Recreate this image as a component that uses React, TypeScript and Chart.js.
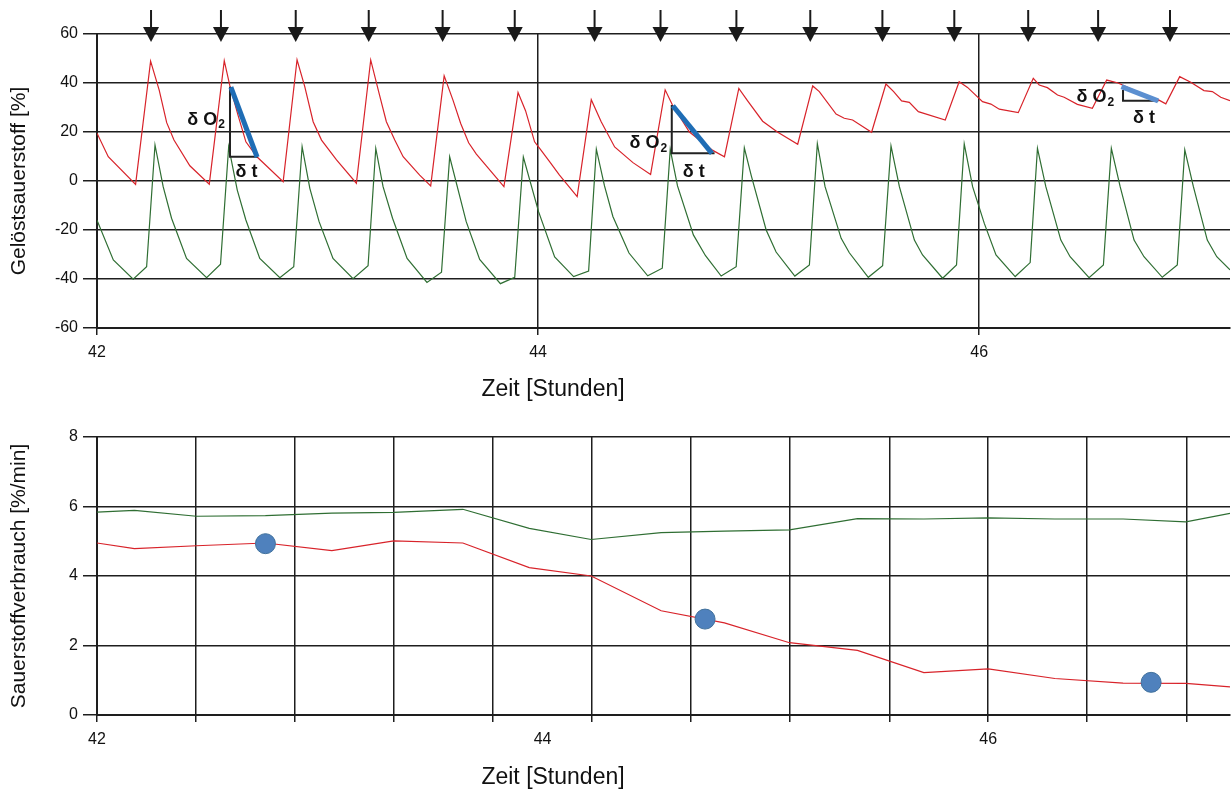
import React, { useEffect, useRef } from 'react';
import { Chart, registerables } from 'chart.js';

Chart.register(...registerables);

const FONT = "'Liberation Sans', Arial, Helvetica, sans-serif";
const RED = '#d8232a';
const GREEN = '#2f6e33';
const GRID = '#1e1e1e';
const TEXT = '#111111';

// ---------- top panel: dissolved oxygen [%] ----------
const topXTicks = [42, 44, 46];
const topYTicks = [-60, -40, -20, 0, 20, 40, 60];

const redT = [
  42.0, 42.051, 42.175, 42.243, 42.282, 42.316, 42.349, 42.421, 42.509,
  42.577, 42.602, 42.639, 42.675, 42.725, 42.844,
  42.907, 42.942, 42.98, 43.018, 43.086, 43.176,
  43.241, 43.279, 43.312, 43.35, 43.388, 43.463, 43.513,
  43.574, 43.614, 43.649, 43.685, 43.72, 43.845,
  43.909, 43.943, 43.984, 44.007, 44.052, 44.097, 44.177,
  44.241, 44.286, 44.347, 44.43, 44.51,
  44.576, 44.609, 44.686, 44.792, 44.845,
  44.91, 44.95, 45.018, 45.085, 45.177,
  45.245, 45.275, 45.351, 45.388, 45.426, 45.512,
  45.577, 45.612, 45.648, 45.683, 45.724, 45.846,
  45.909, 45.947, 46.015, 46.053, 46.091, 46.177,
  46.245, 46.272, 46.309, 46.355, 46.385, 46.445, 46.513,
  46.578, 46.63, 46.702, 46.815, 46.846,
  46.909, 46.959, 47.019, 47.057, 47.095, 47.137,
];
const redV = [
  19.5, 9.9, -1.4, 48.9, 37.1, 23.8, 16.7, 6.2, -1.3,
  49.1, 39.0, 27.0, 16.0, 9.9, -0.3,
  49.5, 38.5, 24.2, 16.7, 8.6, -0.9,
  49.4, 35.8, 24.2, 16.7, 9.9, 2.4, -2.0,
  42.9, 33.0, 23.5, 15.6, 11.0, -2.3,
  36.1, 28.7, 16.0, 13.3, 7.9, 2.4, -6.4,
  33.2, 24.2, 13.9, 7.5, 2.7,
  37.2, 31.0, 20.0, 12.5, 9.9,
  37.8, 32.7, 24.4, 20.0, 15.0,
  38.8, 36.5, 27.3, 25.6, 24.9, 19.9,
  39.6, 36.5, 32.7, 32.1, 28.3, 24.9,
  40.5, 38.2, 32.4, 31.4, 29.3, 27.9,
  41.9, 39.2, 38.1, 35.1, 34.2, 31.3, 29.7,
  41.2, 40.0, 37.0, 33.0, 31.5,
  42.6, 40.3, 36.9, 36.5, 34.2, 32.8,
];

const greenT = [
  42.0, 42.074, 42.164, 42.225,
  42.263, 42.3, 42.338, 42.406, 42.497, 42.56,
  42.597, 42.636, 42.675, 42.738, 42.829, 42.892,
  42.93, 42.965, 43.007, 43.07, 43.161, 43.229,
  43.264, 43.297, 43.34, 43.406, 43.496, 43.562,
  43.599, 43.674, 43.735, 43.829, 43.894,
  43.933, 44.002, 44.075, 44.161, 44.229,
  44.264, 44.301, 44.339, 44.412, 44.497, 44.563,
  44.599, 44.632, 44.704, 44.759, 44.83, 44.898,
  44.935, 44.967, 45.034, 45.079, 45.164, 45.23,
  45.266, 45.301, 45.374, 45.411, 45.497, 45.562,
  45.6, 45.638, 45.706, 45.743, 45.834, 45.897,
  45.932, 45.97, 46.023, 46.076, 46.163, 46.231,
  46.264, 46.302, 46.37, 46.412, 46.498, 46.563,
  46.599, 46.639, 46.702, 46.747, 46.83, 46.898,
  46.932, 46.971, 47.034, 47.077, 47.137,
];
const greenV = [
  -16.0, -32.2, -40.1, -35.0,
  14.7, -2.3, -15.2, -31.6, -39.5, -34.0,
  14.0, -3.7, -15.9, -31.6, -39.5, -35.0,
  14.0, -3.0, -16.6, -31.6, -39.9, -34.6,
  13.3, -2.3, -15.2, -31.6, -41.4, -37.2,
  9.9, -16.6, -32.0, -41.9, -39.3,
  9.8, -12.5, -31.0, -39.0, -36.8,
  13.0, -2.0, -14.5, -29.4, -38.7, -35.6,
  12.9, -2.0, -22.0, -30.5, -38.8, -35.0,
  13.5, 2.0, -20.0, -29.0, -38.8, -34.3,
  15.2, -2.3, -23.4, -29.3, -39.3, -34.6,
  14.3, -2.3, -24.1, -30.2, -39.7, -34.3,
  15.1, -2.3, -17.3, -30.2, -39.0, -33.3,
  13.3, -2.3, -24.1, -30.9, -39.5, -34.3,
  13.3, -2.3, -24.1, -30.9, -39.3, -34.3,
  12.7, -2.3, -24.1, -30.9, -36.3,
];

// times of the pulses (arrows above the top panel)
const arrowTimes = [
  42.245, 42.562, 42.901, 43.232, 43.567, 43.894, 44.256, 44.555,
  44.899, 45.234, 45.561, 45.887, 46.222, 46.539, 46.865,
];

// slope triangles (delta O2 / delta t)
const triLegT = [42.603, 44.606, 46.652];
const triTopV = [38.5, 31.0, 37.1];
const triBottomV = [9.9, 11.3, 32.8];
const triEndT = [42.728, 44.8, 46.812];
const slopeStartT = [42.607, 44.611, 46.645];
const slopeStartV = [38.3, 30.7, 38.5];
const slopeEndT = [42.726, 44.788, 46.811];
const slopeEndV = [9.7, 11.3, 32.7];
const slopeColors = ['#1f6db5', '#1f6db5', '#5b8fd0'];

// label anchors for the triangles (in data units)
const labelO2T = [42.58, 44.585, 46.612];
const labelO2V = [24.9, 15.4, 34.2];
const labelDtT = [42.678, 44.706, 46.747];
const labelDtV = [3.8, 3.8, 25.6];

// ---------- bottom panel: oxygen consumption [%/min] ----------
const bottomGridTicks = [42, 42.444, 42.889, 43.333, 43.778, 44.222, 44.667, 45.111, 45.556, 46, 46.444, 46.889];
const bottomLabelTicks = [42, 44, 46];
const bottomYTicks = [0, 2, 4, 6, 8];

const rateT = [42.0, 42.168, 42.446, 42.756, 43.054, 43.332, 43.642, 43.94, 44.218, 44.532, 44.816, 45.108, 45.413, 45.711, 46.0, 46.299, 46.605, 46.887, 47.085];
const redRate = [4.95, 4.79, 4.87, 4.95, 4.73, 5.01, 4.95, 4.24, 4.0, 3.0, 2.65, 2.08, 1.86, 1.22, 1.33, 1.05, 0.92, 0.91, 0.81];
const greenRate = [5.84, 5.89, 5.72, 5.74, 5.81, 5.83, 5.92, 5.37, 5.05, 5.25, 5.29, 5.33, 5.65, 5.64, 5.67, 5.64, 5.64, 5.56, 5.8];

const dotT = [42.756, 44.729, 46.731];
const dotV = [4.93, 2.76, 0.94];

const xy = (xs: number[], ys: number[]) => xs.map((x, i) => ({ x, y: ys[i] }));
const isClose = (a: number, b: number) => Math.abs(a - b) < 1e-6;

const topOverlay = {
  id: 'topOverlay',
  afterDraw(chart: any) {
    const { ctx, scales, chartArea } = chart;
    const xs = scales.x;
    const ys = scales.y;
    ctx.save();
    // arrows
    ctx.fillStyle = '#1a1a1a';
    ctx.strokeStyle = '#1a1a1a';
    ctx.lineWidth = 2;
    arrowTimes.forEach((t) => {
      const px = xs.getPixelForValue(t);
      const base = chartArea.top - 7;
      ctx.beginPath();
      ctx.moveTo(px, 10);
      ctx.lineTo(px, base + 1);
      ctx.stroke();
      ctx.beginPath();
      ctx.moveTo(px - 8, base);
      ctx.lineTo(px + 8, base);
      ctx.lineTo(px, chartArea.top + 8);
      ctx.closePath();
      ctx.fill();
    });
    // delta labels
    ctx.fillStyle = TEXT;
    ctx.textBaseline = 'middle';
    labelO2T.forEach((t, i) => {
      const px = xs.getPixelForValue(t);
      const py = ys.getPixelForValue(labelO2V[i]);
      ctx.font = `bold 18px ${FONT}`;
      const w1 = ctx.measureText('δ O').width;
      ctx.font = `bold 12px ${FONT}`;
      const w2 = ctx.measureText('2').width;
      const start = px - w1 - w2 - 1;
      ctx.textAlign = 'left';
      ctx.font = `bold 18px ${FONT}`;
      ctx.fillText('δ O', start, py);
      ctx.font = `bold 12px ${FONT}`;
      ctx.fillText('2', start + w1 + 1, py + 5);
      ctx.font = `bold 18px ${FONT}`;
      ctx.textAlign = 'center';
      ctx.fillText('δ t', xs.getPixelForValue(labelDtT[i]), ys.getPixelForValue(labelDtV[i]));
    });
    // x title
    ctx.font = `23px ${FONT}`;
    ctx.textAlign = 'center';
    ctx.fillText('Zeit [Stunden]', 553, 390);
    ctx.restore();
  },
};

const bottomOverlay = {
  id: 'bottomOverlay',
  afterDraw(chart: any) {
    const { ctx } = chart;
    ctx.save();
    ctx.fillStyle = TEXT;
    ctx.font = `23px ${FONT}`;
    ctx.textAlign = 'center';
    ctx.textBaseline = 'middle';
    ctx.fillText('Zeit [Stunden]', 553, 368);
    ctx.restore();
  },
};

export default function App() {
  const topRef = useRef<HTMLCanvasElement>(null);
  const botRef = useRef<HTMLCanvasElement>(null);

  useEffect(() => {
    Chart.defaults.font.family = FONT;
    Chart.defaults.color = TEXT;

    const triDatasets: any[] = [];
    triLegT.forEach((t, i) => {
      triDatasets.push({
        data: [
          { x: slopeStartT[i], y: slopeStartV[i] },
          { x: slopeEndT[i], y: slopeEndV[i] },
        ],
        borderColor: slopeColors[i],
        borderWidth: 5,
        pointRadius: 0,
        tension: 0,
        fill: false,
      });
      triDatasets.push({
        data: [
          { x: t, y: triTopV[i] },
          { x: t, y: triBottomV[i] },
          { x: triEndT[i], y: triBottomV[i] },
        ],
        borderColor: '#222222',
        borderWidth: 2,
        pointRadius: 0,
        tension: 0,
        fill: false,
      });
    });

    const top = new Chart(topRef.current as HTMLCanvasElement, {
      type: 'line',
      data: {
        datasets: [
          ...triDatasets,
          { data: xy(redT, redV), borderColor: RED, borderWidth: 1.2, pointRadius: 0, tension: 0, fill: false },
          { data: xy(greenT, greenV), borderColor: GREEN, borderWidth: 1.2, pointRadius: 0, tension: 0, fill: false },
        ],
      },
      options: {
        animation: false,
        responsive: false,
        devicePixelRatio: 1,
        layout: { autoPadding: false, padding: { top: 34, right: 2, left: 0, bottom: 0 } },
        plugins: { legend: { display: false }, tooltip: { enabled: false } },
        scales: {
          x: {
            type: 'linear',
            min: 42,
            max: 47.137,
            afterBuildTicks: (s: any) => {
              s.ticks = topXTicks.map((v) => ({ value: v }));
            },
            afterFit: (s: any) => {
              s.height = 82;
              s.paddingRight = 0;
            },
            grid: { color: GRID, lineWidth: 1.5, tickLength: 7, drawTicks: true },
            border: { color: GRID, width: 2 },
            ticks: {
              font: { size: 16, family: FONT },
              color: TEXT,
              padding: 8,
              maxRotation: 0,
              autoSkip: false,
              callback: (v: any) => String(v),
            },
          },
          y: {
            type: 'linear',
            min: -60,
            max: 60,
            afterBuildTicks: (s: any) => {
              s.ticks = topYTicks.map((v) => ({ value: v }));
            },
            afterFit: (s: any) => {
              s.width = 97;
            },
            grid: { color: GRID, lineWidth: 1.5, tickLength: 14 },
            border: { color: GRID, width: 2 },
            ticks: {
              font: { size: 16, family: FONT },
              color: TEXT,
              padding: 5,
              callback: (v: any) => String(v),
            },
            title: {
              display: true,
              text: 'Gelöstsauerstoff [%]',
              font: { size: 21, family: FONT },
              color: TEXT,
              padding: { top: 7, bottom: 0 },
            },
          },
        },
      } as any,
      plugins: [topOverlay],
    });

    const allBottomTicks = [...bottomGridTicks, ...bottomLabelTicks.filter((v) => !bottomGridTicks.some((g) => isClose(g, v)))].sort((a, b) => a - b);
    const isLabelOnly = (v: number) => !bottomGridTicks.some((g) => isClose(g, v));
    const gridColorFn = (ctx: any) => (ctx.tick && isLabelOnly(ctx.tick.value) ? 'rgba(0,0,0,0)' : GRID);

    const bot = new Chart(botRef.current as HTMLCanvasElement, {
      type: 'line',
      data: {
        datasets: [
          {
            data: xy(dotT, dotV),
            showLine: false,
            pointRadius: 10,
            pointBackgroundColor: '#4f81bd',
            pointBorderColor: '#41719c',
            pointBorderWidth: 1,
            borderColor: '#4f81bd',
          },
          { data: xy(rateT, redRate), borderColor: RED, borderWidth: 1.2, pointRadius: 0, tension: 0, fill: false },
          { data: xy(rateT, greenRate), borderColor: GREEN, borderWidth: 1.2, pointRadius: 0, tension: 0, fill: false },
        ],
      },
      options: {
        animation: false,
        responsive: false,
        devicePixelRatio: 1,
        layout: { autoPadding: false, padding: { top: 27, right: 2, left: 0, bottom: 0 } },
        plugins: { legend: { display: false }, tooltip: { enabled: false } },
        scales: {
          x: {
            type: 'linear',
            min: 42,
            max: 47.085,
            afterBuildTicks: (s: any) => {
              s.ticks = allBottomTicks.map((v) => ({ value: v }));
            },
            afterFit: (s: any) => {
              s.height = 81;
              s.paddingRight = 0;
            },
            grid: { color: gridColorFn, tickColor: gridColorFn, lineWidth: 1.5, tickLength: 7 },
            border: { color: GRID, width: 2 },
            ticks: {
              font: { size: 16, family: FONT },
              color: TEXT,
              padding: 8,
              maxRotation: 0,
              autoSkip: false,
              callback: (v: any) => (bottomLabelTicks.some((l) => isClose(l, Number(v))) ? String(Math.round(Number(v))) : ''),
            },
          },
          y: {
            type: 'linear',
            min: 0,
            max: 8,
            afterBuildTicks: (s: any) => {
              s.ticks = bottomYTicks.map((v) => ({ value: v }));
            },
            afterFit: (s: any) => {
              s.width = 97;
            },
            grid: { color: GRID, lineWidth: 1.5, tickLength: 14 },
            border: { color: GRID, width: 2 },
            ticks: {
              font: { size: 16, family: FONT },
              color: TEXT,
              padding: 5,
              callback: (v: any) => String(v),
            },
            title: {
              display: true,
              text: 'Sauerstoffverbrauch [%/min]',
              font: { size: 21, family: FONT },
              color: TEXT,
              padding: { top: 7, bottom: 0 },
            },
          },
        },
      } as any,
      plugins: [bottomOverlay],
    });

    return () => {
      top.destroy();
      bot.destroy();
    };
  }, []);

  return (
    <div style={{ position: 'fixed', left: 0, top: 0, width: 1232, height: 796, background: '#ffffff' }}>
      <canvas ref={topRef} width={1232} height={410} style={{ position: 'absolute', left: 0, top: 0 }} />
      <canvas ref={botRef} width={1232} height={386} style={{ position: 'absolute', left: 0, top: 410 }} />
    </div>
  );
}
